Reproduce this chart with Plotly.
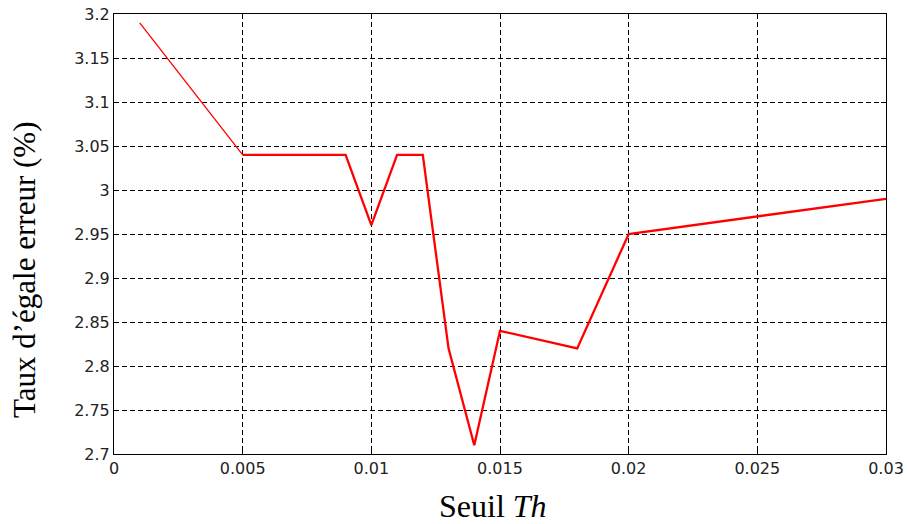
import plotly.graph_objects as go

th = [0.001, 0.005, 0.009, 0.010, 0.011, 0.012, 0.013, 0.014, 0.015, 0.018, 0.020, 0.030]
eer = [3.19, 3.04, 3.04, 2.96, 3.04, 3.04, 2.82, 2.71, 2.84, 2.82, 2.95, 2.99]

x_ticks = [0, 0.005, 0.01, 0.015, 0.02, 0.025, 0.03]
x_labels = ["0", "0.005", "0.01", "0.015", "0.02", "0.025", "0.03"]
y_ticks = [2.7, 2.75, 2.8, 2.85, 2.9, 2.95, 3.0, 3.05, 3.1, 3.15, 3.2]
y_labels = ["2.7", "2.75", "2.8", "2.85", "2.9", "2.95", "3", "3.05", "3.1", "3.15", "3.2"]

fig = go.Figure()
fig.add_trace(go.Scatter(x=th[:2], y=eer[:2], mode="lines",
                         line=dict(color="#ff0000", width=1.3), showlegend=False))
fig.add_trace(go.Scatter(x=th[1:], y=eer[1:], mode="lines",
                         line=dict(color="#ff0000", width=2.3), showlegend=False))

axis_common = dict(showline=True, linecolor="black", linewidth=1, mirror="ticks",
                   ticks="inside", ticklen=5, tickcolor="black",
                   showgrid=True, gridcolor="black", griddash="5px,3px", gridwidth=1,
                   zeroline=False, automargin=False,
                   tickfont=dict(family="DejaVu Sans", size=16, color="#222"))

W, H = 907, 524
L, T, R, B = 114, 14, 21, 70
PW, PH = W - L - R, H - T - B

fig.update_layout(
    width=W, height=H,
    margin=dict(l=L, r=R, t=T, b=B),
    paper_bgcolor="white", plot_bgcolor="white",
    xaxis=dict(range=[0, 0.03], tickvals=x_ticks, ticktext=x_labels, **axis_common),
    yaxis=dict(range=[2.7, 3.2], tickvals=y_ticks, ticktext=y_labels, **axis_common),
    annotations=[
        dict(text="Seuil <i>Th</i>", xref="paper", yref="paper",
             x=(493 - L) / PW, y=(PH + T - 506) / PH, xanchor="center", yanchor="middle",
             showarrow=False,
             font=dict(family="Liberation Serif, Times New Roman", size=32, color="black")),
        dict(text="Taux d\u2019égale erreur (%)", xref="paper", yref="paper",
             x=(24 - L) / PW, y=(PH + T - 270) / PH, xanchor="center", yanchor="middle",
             textangle=-90, showarrow=False,
             font=dict(family="Liberation Serif, Times New Roman", size=31, color="black")),
    ],
)

fig.write_html("out.html", config={"displayModeBar": False},
               post_script="document.body.style.margin='0';document.body.style.padding='0';")
